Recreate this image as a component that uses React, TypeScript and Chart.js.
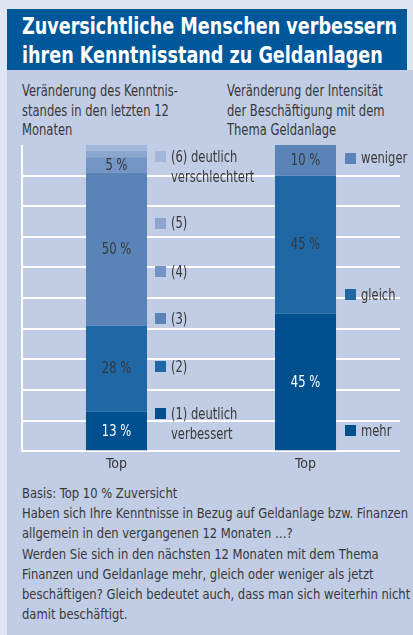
import React, { useEffect, useRef } from "react";
import { Chart, registerables } from "chart.js";

Chart.register(...registerables);

// ---------- data ----------
const categories = ["Top", "Top"];
const knowledgeNames = ["(1) deutlich verbessert", "(2)", "(3)", "(4)", "(5)", "(6) deutlich verschlechtert"];
const knowledgeValues = [13, 28, 50, 5, 2, 2];
const intensityNames = ["mehr", "gleich", "weniger"];
const intensityValues = [45, 45, 10];
const yTickStep = 10;
const yMax = 100;

// ---------- styles ----------
const FONT = "'DejaVu Sans Condensed', 'DejaVu Sans', sans-serif";
const TEXT = "#383838";
const knowledgeColors = ["#00508f", "#1f68a5", "#5a84b8", "#7394c4", "#8ca6d0", "#a3b7da"];
const intensityColors = ["#00508f", "#1f68a5", "#5a84b8"];
const knowledgeLabelColors = ["#ffffff", TEXT, TEXT, TEXT, TEXT, TEXT];
const intensityLabelColors = ["#ffffff", TEXT, TEXT];
const knowledgeLegendTops = [408, 361, 313, 266, 217.5, 151];
const intensityLegendTops = [425, 289, 152.5];

function measure(text: string, font: string): number {
  const c = document.createElement("canvas").getContext("2d");
  if (!c) return 1;
  c.font = font;
  return c.measureText(text).width || 1;
}

// horizontal squeeze factors to match the condensed face of the original
const BODY_SX = 156 / measure("Veränderung des Kenntnis-", `15px ${FONT}`);
const FOOT_SX = 386 / measure("Haben sich Ihre Kenntnisse in Bezug auf Geldanlage bzw. Finanzen", `14px ${FONT}`);
const TITLE_SX = 375 / measure("Zuversichtliche Menschen verbessern", `bold 23px ${FONT}`);

const valueLabelPlugin = {
  id: "valueLabels",
  afterDatasetsDraw(chart: any) {
    const ctx = chart.ctx;
    chart.data.datasets.forEach((ds: any, di: number) => {
      const meta = chart.getDatasetMeta(di);
      meta.data.forEach((el: any, i: number) => {
        const v = ds.data[i];
        if (v == null || v < 5) return;
        ctx.save();
        ctx.font = `15px ${FONT}`;
        ctx.textAlign = "center";
        ctx.textBaseline = "middle";
        ctx.fillStyle = ds.labelColor;
        ctx.translate(el.x, (el.y + el.base) / 2 + 1);
        ctx.scale(BODY_SX, 1);
        ctx.fillText(`${v} %`, 0, 0);
        ctx.restore();
      });
    });
  },
};

function Squeezed({
  left,
  top,
  size,
  lh,
  sx,
  color,
  bold,
  lines,
}: {
  left: number;
  top: number;
  size: number;
  lh: number;
  sx: number;
  color: string;
  bold?: boolean;
  lines: string[];
}) {
  return (
    <div
      style={{
        position: "absolute",
        left,
        top,
        fontFamily: FONT,
        fontSize: size,
        fontWeight: bold ? "bold" : "normal",
        lineHeight: `${lh}px`,
        color,
        whiteSpace: "nowrap",
        transform: `scaleX(${sx})`,
        transformOrigin: "left top",
      }}
    >
      {lines.map((l, i) => (
        <div key={i}>{l}</div>
      ))}
    </div>
  );
}

function LegendItem({ left, top, color, name }: { left: number; top: number; color: string; name: string }) {
  const k = name.indexOf("deutlich");
  const parts = k >= 0 ? [name.slice(0, k + 8), name.slice(k + 9)] : [name];
  return (
    <>
      <div style={{ position: "absolute", left, top, width: 11, height: 11, background: color }} />
      <Squeezed left={left + 16} top={top + 5.5 - 10} size={15} lh={20} sx={BODY_SX} color={TEXT} lines={parts} />
    </>
  );
}

export default function App() {
  const canvasRef = useRef<HTMLCanvasElement | null>(null);

  useEffect(() => {
    if (!canvasRef.current) return;
    const datasets: any[] = [];
    knowledgeValues.forEach((v, i) => {
      datasets.push({
        label: knowledgeNames[i],
        data: [v, null],
        backgroundColor: knowledgeColors[i],
        labelColor: knowledgeLabelColors[i],
      });
    });
    intensityValues.forEach((v, i) => {
      datasets.push({
        label: intensityNames[i],
        data: [null, v],
        backgroundColor: intensityColors[i],
        labelColor: intensityLabelColors[i],
      });
    });
    const chart = new Chart(canvasRef.current, {
      type: "bar",
      data: { labels: categories, datasets },
      plugins: [valueLabelPlugin],
      options: {
        animation: false,
        responsive: false,
        maintainAspectRatio: false,
        layout: { padding: { left: 2, right: 2, top: 0, bottom: 0 } },
        datasets: { bar: { categoryPercentage: 1, barPercentage: 0.323, borderWidth: 0 } },
        plugins: { legend: { display: false }, tooltip: { enabled: false }, title: { display: false } },
        scales: {
          x: {
            stacked: true,
            grid: { display: false, drawTicks: false },
            border: { display: false },
            ticks: { color: TEXT, font: { family: FONT, size: 14 }, padding: 5 },
          },
          y: {
            stacked: true,
            min: 0,
            max: yMax,
            grid: {
              drawTicks: false,
              lineWidth: 2,
              color: (c: any) => (c.tick && c.tick.value === yMax ? "rgba(0,0,0,0)" : "#ffffff"),
            },
            border: { display: true, color: "#ffffff", width: 2 },
            ticks: { display: false, stepSize: yTickStep },
          },
        },
      },
    } as any);
    return () => chart.destroy();
  }, []);

  return (
    <div style={{ position: "absolute", left: 0, top: 0, width: 413, height: 635, background: "#dfe5f1", overflow: "hidden" }}>
      <div style={{ position: "absolute", left: 7, top: 70, width: 406, height: 565, background: "#c1cde4" }} />
      <div style={{ position: "absolute", left: 7, top: 9, width: 400, height: 61, background: "#00589b" }} />
      <Squeezed
        left={22}
        top={11.5}
        size={23}
        lh={29}
        sx={TITLE_SX}
        color="#ffffff"
        bold
        lines={["Zuversichtliche Menschen verbessern", "ihren Kenntnisstand zu Geldanlagen"]}
      />
      <Squeezed
        left={22}
        top={82}
        size={15}
        lh={19.5}
        sx={BODY_SX}
        color={TEXT}
        lines={["Veränderung des Kenntnis-", "standes in den letzten 12", "Monaten"]}
      />
      <Squeezed
        left={227}
        top={82}
        size={15}
        lh={19.5}
        sx={BODY_SX}
        color={TEXT}
        lines={["Veränderung der Intensität", "der Beschäftigung mit dem", "Thema Geldanlage"]}
      />
      <canvas
        ref={canvasRef}
        width={382}
        height={333}
        style={{ position: "absolute", left: 20, top: 145, width: 382, height: 333 }}
      />
      {knowledgeNames.map((n, i) => (
        <LegendItem key={n} left={155} top={knowledgeLegendTops[i]} color={knowledgeColors[i]} name={n} />
      ))}
      {intensityNames.map((n, i) => (
        <LegendItem key={n} left={345} top={intensityLegendTops[i]} color={intensityColors[i]} name={n} />
      ))}
      <Squeezed
        left={22}
        top={483}
        size={14}
        lh={20.2}
        sx={FOOT_SX}
        color={TEXT}
        lines={[
          "Basis: Top 10 % Zuversicht",
          "Haben sich Ihre Kenntnisse in Bezug auf Geldanlage bzw. Finanzen",
          "allgemein in den vergangenen 12 Monaten …?",
          "Werden Sie sich in den nächsten 12 Monaten mit dem Thema",
          "Finanzen und Geldanlage mehr, gleich oder weniger als jetzt",
          "beschäftigen? Gleich bedeutet auch, dass man sich weiterhin nicht",
          "damit beschäftigt.",
        ]}
      />
    </div>
  );
}
